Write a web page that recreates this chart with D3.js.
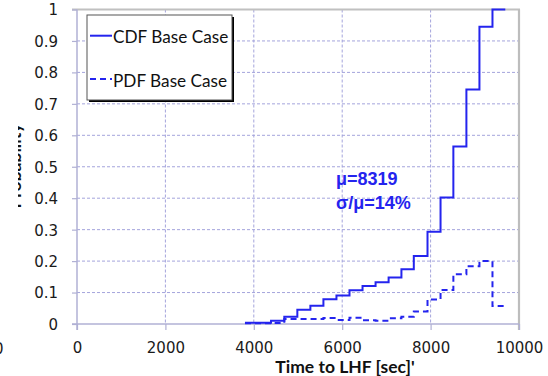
<!DOCTYPE html>
<html>
<head>
<meta charset="utf-8">
<script src="https://cdn.jsdelivr.net/npm/d3@7/dist/d3.min.js"></script>
<style>
  html, body { margin: 0; padding: 0; background: #fff; }
  svg { display: block; }
</style>
</head>
<body>
<svg id="chart" width="548" height="376"></svg>
<script>
// Bin edges of the time-to-LHF histogram [sec]; the last entry closes the final bin
const binEdges = [3800, 4095, 4390, 4690, 4985, 5280, 5575, 5870, 6165, 6460, 6755,
                  7050, 7340, 7620, 7930, 8225, 8515, 8810, 9105, 9400, 9690];
// Cumulative probability over each bin
const cdfValues = [0.004, 0.004, 0.010, 0.023, 0.045, 0.058, 0.079, 0.091, 0.107, 0.121,
                   0.133, 0.148, 0.174, 0.216, 0.293, 0.402, 0.564, 0.746, 0.945, 1.000];
// Probability mass in each bin
const pdfValues = [0.002, 0.002, 0.003, 0.016, 0.016, 0.016, 0.019, 0.013, 0.020, 0.012,
                   0.010, 0.018, 0.023, 0.040, 0.078, 0.108, 0.158, 0.184, 0.200, 0.057];
const xTicks = [0, 2000, 4000, 6000, 8000, 10000];
const yTicks = [0, 0.1, 0.2, 0.3, 0.4, 0.5, 0.6, 0.7, 0.8, 0.9, 1];
const seriesNames = ["CDF Base Case", "PDF Base Case"];
const statLines = ["\u03bc=8319", "\u03c3/\u03bc=14%"];

const svg = d3.select("#chart");
const blue = "#2424ee";
const gridColor = "#a4a4dc";
const axisColor = "#b0b0d4";

const x = d3.scaleLinear().domain([0, 10000]).range([77, 519]);
const y = d3.scaleLinear().domain([0, 1]).range([324, 9.5]);

// Gridlines
const grid = svg.append("g");
grid.selectAll("line.h").data(yTicks.filter(v => v > 0 && v < 1)).join("line")
  .attr("x1", x(0)).attr("x2", x(10000))
  .attr("y1", d => y(d)).attr("y2", d => y(d))
  .attr("stroke", gridColor).attr("stroke-width", 1).attr("stroke-dasharray", "3,2");
grid.selectAll("line.v").data(xTicks.filter(v => v > 0 && v < 10000)).join("line")
  .attr("x1", d => x(d)).attr("x2", d => x(d))
  .attr("y1", y(1)).attr("y2", y(0))
  .attr("stroke", gridColor).attr("stroke-width", 1).attr("stroke-dasharray", "3,2");

// Frame: grey top and right edges
svg.append("line").attr("x1", x(0) - 5).attr("x2", x(10000) + 1)
  .attr("y1", y(1)).attr("y2", y(1)).attr("stroke", "#c0c0c0").attr("stroke-width", 2);
svg.append("line").attr("x1", x(10000)).attr("x2", x(10000))
  .attr("y1", y(1)).attr("y2", y(0) + 6).attr("stroke", "#bdbdbd").attr("stroke-width", 2.2);

// Axes
const xAxis = d3.axisBottom(x).tickValues(xTicks).tickSize(6).tickFormat(d3.format("d"));
const gx = svg.append("g").attr("transform", `translate(0,${y(0)})`).call(xAxis);
gx.select(".domain").attr("d", `M${x(0) - 5},0H${x(10000)}`).attr("stroke", axisColor).attr("stroke-width", 1.5);
gx.selectAll(".tick line").attr("stroke", axisColor).attr("stroke-width", 1.2);
gx.selectAll(".tick text").attr("font-family", "DejaVu Sans").attr("font-size", 15)
  .attr("fill", "#1a1a1a").attr("dy", null).attr("y", 29);

const yAxis = d3.axisLeft(y).tickValues(yTicks).tickSize(5).tickFormat(d => d3.format("")(d));
const gy = svg.append("g").attr("transform", `translate(${x(0)},0)`).call(yAxis);
gy.select(".domain").attr("d", `M0,${y(1)}V${y(0) + 6}`).attr("stroke", axisColor).attr("stroke-width", 1.5);
gy.selectAll(".tick line").attr("stroke", axisColor).attr("stroke-width", 1.2);
gy.selectAll(".tick text").attr("font-family", "DejaVu Sans").attr("font-size", 15)
  .attr("fill", "#1a1a1a").attr("x", -19).attr("dy", "0.36em");

// Axis titles (the y title sits mostly outside the page, only a sliver shows)
svg.append("text").attr("x", 345).attr("y", 372.5).attr("text-anchor", "middle")
  .attr("font-family", "Lato").attr("font-weight", "bold").attr("font-size", 17.5)
  .attr("fill", "#111").text("Time to LHF [sec]'");
svg.append("clipPath").attr("id", "ytclip").append("rect")
  .attr("x", 18).attr("y", 0).attr("width", 8).attr("height", 376);
svg.append("g").attr("clip-path", "url(#ytclip)")
  .append("text")
  .attr("transform", "translate(21,166) rotate(-90)").attr("text-anchor", "middle")
  .attr("font-family", "Lato").attr("font-weight", "bold").attr("font-size", 17.5)
  .attr("fill", "#111").text("Probability");
svg.append("text").attr("x", -6).attr("y", 353.5)
  .attr("font-family", "DejaVu Sans").attr("font-size", 15).attr("fill", "#1a1a1a").text("0");

// Step curves
const stepPts = vals => vals.map((v, i) => [binEdges[i], v])
  .concat([[binEdges[binEdges.length - 1], vals[vals.length - 1]]]);
const line = d3.line().x(d => x(d[0])).y(d => y(d[1])).curve(d3.curveStepAfter);

svg.append("path").attr("d", line(stepPts(pdfValues)))
  .attr("fill", "none").attr("stroke", blue).attr("stroke-width", 2).attr("stroke-dasharray", "6,4");
svg.append("path").attr("d", line(stepPts(cdfValues)))
  .attr("fill", "none").attr("stroke", blue).attr("stroke-width", 2);

// Statistics annotation
svg.selectAll("text.stat").data(statLines).join("text")
  .attr("x", 336).attr("y", (d, i) => 185 + i * 23.5)
  .attr("font-family", "Liberation Sans").attr("font-weight", "bold").attr("font-size", 18)
  .attr("fill", blue).text(d => d);

// Legend
const lg = svg.append("g");
lg.append("rect").attr("x", 89).attr("y", 17).attr("width", 145).attr("height", 85).attr("fill", "#000");
lg.append("rect").attr("x", 87).attr("y", 15).attr("width", 145).attr("height", 85)
  .attr("fill", "#fff").attr("stroke", "#555").attr("stroke-width", 1);
seriesNames.forEach((name, i) => {
  const cy = 35.7 + i * 43.3;
  lg.append("line").attr("x1", 90).attr("x2", 112).attr("y1", cy).attr("y2", cy)
    .attr("stroke", blue).attr("stroke-width", 2)
    .attr("stroke-dasharray", i === 1 ? "6,4" : null);
  lg.append("text").attr("x", 113).attr("y", cy + 7.5)
    .attr("font-family", "Lato").attr("font-size", 17.2).attr("fill", "#111").text(name);
});
</script>
</body>
</html>
